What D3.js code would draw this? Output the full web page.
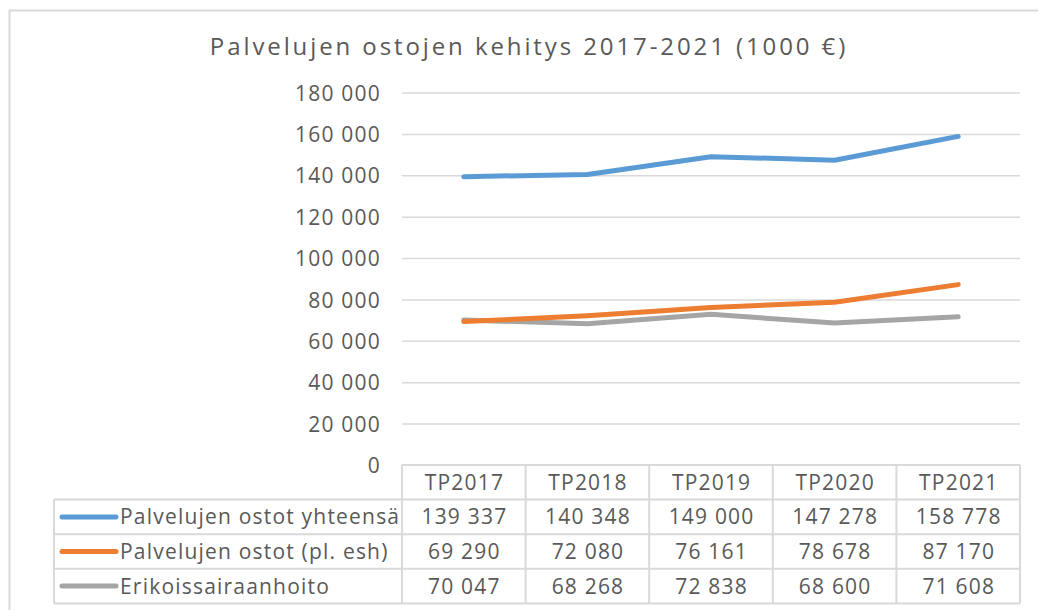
<!DOCTYPE html>
<html>
<head>
<meta charset="utf-8">
<script src="https://cdn.jsdelivr.net/npm/d3@7"></script>
<style>
  html, body { margin: 0; padding: 0; background: #fff; }
  svg { display: block; }
  text { font-family: "Open Sans", sans-serif; fill: #595959; }
</style>
</head>
<body>
<svg id="chart" width="1038" height="610"></svg>
<script>
const title = "Palvelujen ostojen kehitys 2017-2021 (1000 €)";
const categories = ["TP2017", "TP2018", "TP2019", "TP2020", "TP2021"];
const seriesNames = ["Palvelujen ostot yhteensä", "Palvelujen ostot (pl. esh)", "Erikoissairaanhoito"];
const totalValues = [139337, 140348, 149000, 147278, 158778];
const excludingEshValues = [69290, 72080, 76161, 78678, 87170];
const eshValues = [70047, 68268, 72838, 68600, 71608];
const yTicks = [0, 20000, 40000, 60000, 80000, 100000, 120000, 140000, 160000, 180000];
const colors = ["#5b9bd5", "#ed7d31", "#a5a5a5"];

const series = seriesNames.map((name, i) => ({
  name,
  values: [totalValues, excludingEshValues, eshValues][i],
  color: colors[i]
}));

const svg = d3.select("#chart");
const W = 1038, H = 610;
const plot = { left: 402, right: 1020, top: 92.5, bottom: 465 };
const rowH = 34.6;
const legendLeft = 54;
const fmt = v => d3.format(",")(v).replace(/,/g, " ");

// outer frame (top & left only visible)
svg.append("line").attr("x1", 9).attr("x2", W).attr("y1", 10.5).attr("y2", 10.5)
  .attr("stroke", "#d9d9d9").attr("stroke-width", 2);
svg.append("line").attr("x1", 9.5).attr("x2", 9.5).attr("y1", 10).attr("y2", H)
  .attr("stroke", "#d9d9d9").attr("stroke-width", 2);

// title
svg.append("text")
  .attr("x", 529).attr("y", 55)
  .attr("text-anchor", "middle")
  .style("font-size", "24px")
  .style("letter-spacing", "2.9px")
  .text(title);

const x = d3.scaleBand().domain(categories).range([plot.left, plot.right]);
const y = d3.scaleLinear().domain([0, 180000]).range([plot.bottom, plot.top]);

// gridlines
const grid = svg.append("g")
  .attr("transform", `translate(${plot.left},0)`)
  .call(d3.axisLeft(y).tickValues(yTicks.filter(t => t > 0)).tickSize(-(plot.right - plot.left)).tickFormat(""));
grid.select(".domain").remove();
grid.selectAll(".tick line").attr("stroke", "#d9d9d9").attr("stroke-width", 1.5);

// y axis labels
const yAxis = svg.append("g")
  .attr("transform", `translate(381,0)`)
  .call(d3.axisLeft(y).tickValues(yTicks).tickSize(0).tickPadding(0).tickFormat(fmt));
yAxis.select(".domain").remove();
yAxis.selectAll(".tick text")
  .attr("fill", "#595959")
  .style("font-family", "'Open Sans', sans-serif")
  .style("font-size", "21px")
  .style("letter-spacing", "1.2px")
  .attr("dy", "0.36em");

// lines
const line = d3.line()
  .x((d, i) => x(categories[i]) + x.bandwidth() / 2)
  .y(d => y(d));

svg.append("g").selectAll("path")
  .data(series.slice().reverse())
  .join("path")
  .attr("d", d => line(d.values))
  .attr("fill", "none")
  .attr("stroke", d => d.color)
  .attr("stroke-width", 5)
  .attr("stroke-linecap", "round")
  .attr("stroke-linejoin", "round");

// data table
const table = svg.append("g");
const tableBottom = plot.bottom + rowH * (series.length + 1);
const tableStroke = { stroke: "#d9d9d9", w: 2 };
table.append("line").attr("x1", plot.left).attr("x2", plot.right)
  .attr("y1", plot.bottom).attr("y2", plot.bottom)
  .attr("stroke", tableStroke.stroke).attr("stroke-width", tableStroke.w);
for (let r = 1; r <= series.length + 1; r++) {
  const yy = plot.bottom + rowH * r;
  table.append("line").attr("x1", legendLeft).attr("x2", plot.right)
    .attr("y1", yy).attr("y2", yy)
    .attr("stroke", tableStroke.stroke).attr("stroke-width", tableStroke.w);
}
table.append("line").attr("x1", legendLeft).attr("x2", legendLeft)
  .attr("y1", plot.bottom + rowH).attr("y2", tableBottom)
  .attr("stroke", tableStroke.stroke).attr("stroke-width", tableStroke.w);
categories.forEach(c => {
  table.append("line").attr("x1", x(c)).attr("x2", x(c))
    .attr("y1", plot.bottom).attr("y2", tableBottom)
    .attr("stroke", tableStroke.stroke).attr("stroke-width", tableStroke.w);
});
table.append("line").attr("x1", plot.right).attr("x2", plot.right)
  .attr("y1", plot.bottom).attr("y2", tableBottom)
  .attr("stroke", tableStroke.stroke).attr("stroke-width", tableStroke.w);

// header text
table.selectAll("text.hdr")
  .data(categories)
  .join("text")
  .attr("class", "hdr")
  .attr("x", d => x(d) + x.bandwidth() / 2 + 0.6)
  .attr("y", plot.bottom + rowH / 2)
  .attr("dy", "0.36em")
  .attr("text-anchor", "middle")
  .style("font-size", "21px")
  .style("letter-spacing", "1.2px")
  .text(d => d);

// rows
series.forEach((s, r) => {
  const cy = plot.bottom + rowH * (r + 1) + rowH / 2;
  table.append("line")
    .attr("x1", 62).attr("x2", 116)
    .attr("y1", cy).attr("y2", cy)
    .attr("stroke", s.color).attr("stroke-width", 5)
    .attr("stroke-linecap", "round");
  table.append("text")
    .attr("x", 120).attr("y", cy).attr("dy", "0.36em")
    .style("font-size", "21px")
    .style("letter-spacing", "1.2px")
    .text(s.name);
  table.selectAll(null)
    .data(s.values)
    .join("text")
    .attr("x", (d, i) => x(categories[i]) + x.bandwidth() / 2 + 0.6)
    .attr("y", cy).attr("dy", "0.36em")
    .attr("text-anchor", "middle")
    .style("font-size", "21px")
    .style("letter-spacing", "1.2px")
    .text(d => fmt(d));
});
</script>
</body>
</html>
